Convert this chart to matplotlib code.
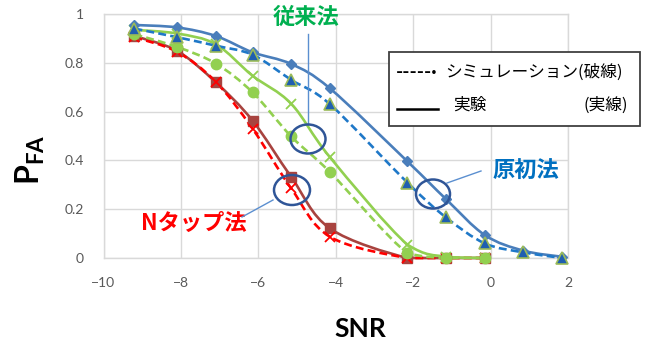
import numpy as np
import matplotlib
matplotlib.use("Agg")
import matplotlib.pyplot as plt
from matplotlib.path import Path
from matplotlib.patches import PathPatch, Ellipse, Rectangle
from matplotlib.lines import Line2D
from matplotlib.ticker import FuncFormatter

plt.rcParams['font.family'] = ['Lato', 'Noto Sans CJK JP', 'DejaVu Sans']
plt.rcParams['mathtext.fontset'] = 'custom'
plt.rcParams['mathtext.bf'] = 'Lato:bold'
plt.rcParams['mathtext.rm'] = 'Lato'

# SNR sample points
snr_full = [-9.2, -8.1, -7.1, -6.15, -5.15, -4.15, -2.15, -1.15, -0.15, 0.85, 1.85]
snr_short = snr_full[:9]

# 原初法
orig_exp = [0.955, 0.945, 0.91, 0.843, 0.795, 0.695, 0.396, 0.241, 0.094, 0.03, 0.005]
orig_sim = [0.94, 0.905, 0.87, 0.833, 0.73, 0.63, 0.309, 0.166, 0.06, 0.023, 0.0]
# 従来法
conv_exp = [0.935, 0.92, 0.876, 0.747, 0.632, 0.413, 0.055, 0.005, 0.0]
conv_sim = [0.917, 0.865, 0.797, 0.679, 0.498, 0.352, 0.02, 0.0, 0.0]
# Nタップ法
ntap_exp = [0.91, 0.849, 0.72, 0.563, 0.332, 0.121, 0.0, 0.0, 0.0]
ntap_sim = [0.905, 0.845, 0.722, 0.53, 0.285, 0.087, 0.0, 0.0, 0.0]

x_ticks = [-10, -8, -6, -4, -2, 0, 2]
y_ticks = [0, 0.2, 0.4, 0.6, 0.8, 1]

W, H = 658, 347


def fx(px):
    return px / W


def fy(py):
    return 1 - py / H


def smooth_path(xs, ys):
    """Bezier path through the points (Catmull-Rom style, no overshoot)."""
    pts = np.column_stack([xs, ys]).astype(float)
    n = len(pts)
    verts = [pts[0]]
    codes = [Path.MOVETO]
    for i in range(n - 1):
        p0 = pts[i - 1] if i > 0 else pts[i]
        p1 = pts[i]
        p2 = pts[i + 1]
        p3 = pts[i + 2] if i + 2 < n else pts[i + 1]
        c1 = p1 + (p2 - p0) / 6.0
        c2 = p2 - (p3 - p1) / 6.0
        lo, hi = min(p1[1], p2[1]), max(p1[1], p2[1])
        c1[1] = np.clip(c1[1], lo, hi)
        c2[1] = np.clip(c2[1], lo, hi)
        verts += [c1, c2, p2]
        codes += [Path.CURVE4] * 3
    return Path(verts, codes)


fig = plt.figure(figsize=(W / 100, H / 100), dpi=100)
ax = fig.add_axes([fx(103.5), fy(258), (568 - 103.5) / W, (258 - 14) / H])
ax.set_xlim(-10, 2)
ax.set_ylim(0, 1)
ax.set_xticks(x_ticks)
ax.set_yticks(y_ticks)
ax.yaxis.set_major_formatter(FuncFormatter(lambda v, p: f"{v:g}"))
ax.grid(True, color='#d9d9d9', lw=1.0)
ax.set_axisbelow(True)
for s in ax.spines.values():
    s.set_color('#d9d9d9')
    s.set_linewidth(1.0)
ax.tick_params(length=0, labelsize=10, labelcolor='#595959')
ax.tick_params(axis='x', pad=14)
ax.tick_params(axis='y', pad=14)


def series(xs, ys, color, ls, marker, mfc, mec, ms, mew=1.0, lw=1.9):
    ax.add_patch(PathPatch(smooth_path(xs, ys), fill=False, edgecolor=color,
                           lw=lw, linestyle=ls, zorder=3, clip_on=False,
                           capstyle='butt'))
    ax.plot(xs, ys, linestyle='none', marker=marker, ms=ms, mfc=mfc, mec=mec,
            mew=mew, zorder=4, clip_on=False)


series(snr_short, ntap_exp, '#a8433f', '-', 's', '#a8433f', '#a8433f', 7)
series(snr_short, ntap_sim, '#ff0000', (0, (3, 1.6)), 'x', '#ff0000', '#ff0000', 7, mew=1.3)
series(snr_short, conv_exp, '#92d050', '-', 'x', '#92d050', '#92d050', 7, mew=1.3)
series(snr_short, conv_sim, '#92d050', (0, (3, 1.6)), 'o', '#92d050', '#92d050', 7.5)
series(snr_full, orig_exp, '#4a7ebb', '-', 'D', '#4a7ebb', '#4a7ebb', 5.5)
series(snr_full, orig_sim, '#1f78c8', (0, (3, 1.6)), '^', '#1f5fb0', '#9bbb59', 8, mew=1.2)

# Axis titles
fig.text(fx(360), fy(329), 'SNR', ha='center', va='center', fontsize=19,
         fontweight='bold', color='black', family='Lato')
fig.text(fx(30), fy(160), r'$\mathbf{P}_{\mathbf{FA}}$', ha='center', va='center',
         fontsize=23, rotation=90, color='black')

# Method labels with leader lines and circles
ell_color = '#2f5597'
lead_color = '#5b8fd0'
for cx, cy, w, h in [(308, 139, 35, 29), (292, 190, 36, 30), (433, 194, 34, 29)]:
    fig.patches.append(Ellipse((fx(cx), fy(cy)), w / W, h / H, fill=False,
                               edgecolor=ell_color, lw=1.8,
                               transform=fig.transFigure, zorder=10))
for (x0, y0), (x1, y1) in [((308, 34), (308, 124)),
                           ((242, 217), (273, 200)),
                           ((447, 183), (481, 171))]:
    fig.add_artist(Line2D([fx(x0), fx(x1)], [fy(y0), fy(y1)], color=lead_color,
                          lw=1.0, transform=fig.transFigure, zorder=10))

fig.text(fx(306), fy(17), '従来法', ha='center', va='center', fontsize=16,
         fontweight='bold', color='#00b050', family=['Noto Sans CJK JP'])
fig.text(fx(526), fy(171), '原初法', ha='center', va='center', fontsize=16,
         fontweight='bold', color='#0070c0', family=['Noto Sans CJK JP'])
fig.text(fx(194), fy(223), 'Nタップ法', ha='center', va='center', fontsize=16,
         fontweight='bold', color='#ff0000', family=['Noto Sans CJK JP'])

# Line-style key
fig.patches.append(Rectangle((fx(389), fy(126)), (640 - 389) / W, (126 - 52) / H,
                             fill=True, facecolor='white', edgecolor='#404040',
                             lw=1.3, transform=fig.transFigure, zorder=11))
fig.text(fx(396), fy(72), '-----·', ha='left', va='center', fontsize=14,
         fontweight='bold', color='black', family=['Lato'], zorder=12)
fig.text(fx(445), fy(72), 'シミュレーション(破線)', ha='left', va='center',
         fontsize=12, color='black', family=['Noto Sans CJK JP'], zorder=12)
fig.add_artist(Line2D([fx(397), fx(438)], [fy(109), fy(109)], color='black',
                      lw=1.8, transform=fig.transFigure, zorder=12))
fig.text(fx(453), fy(105), '実験', ha='left', va='center', fontsize=12,
         color='black', family=['Noto Sans CJK JP'], zorder=12)
fig.text(fx(628), fy(105), '(実線)', ha='right', va='center', fontsize=12,
         color='black', family=['Noto Sans CJK JP'], zorder=12)

fig.savefig('out.png', dpi=100)
